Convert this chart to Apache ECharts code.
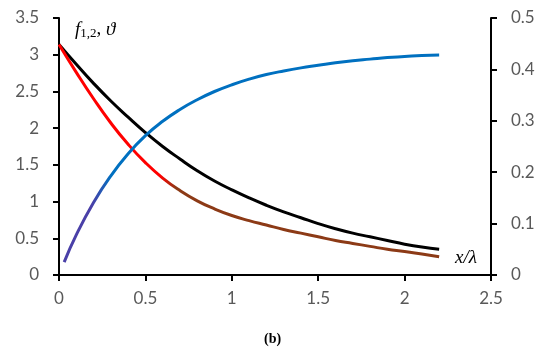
<!DOCTYPE html>
<html>
<head>
<meta charset="utf-8">
<script src="https://cdn.jsdelivr.net/npm/echarts@6/dist/echarts.min.js"></script>
<style>
html, body { margin: 0; padding: 0; background: #fff; }
#chart { width: 550px; height: 354px; }
</style>
</head>
<body>
<div id="chart"></div>
<script>
// values
var xs = [0, 0.1, 0.2, 0.3, 0.4, 0.5, 0.6, 0.7, 0.8, 0.9, 1.0, 1.1,
          1.2, 1.3, 1.4, 1.5, 1.6, 1.7, 1.8, 1.9, 2.0, 2.1, 2.2];
var f1 = [3.14, 2.87, 2.61, 2.37, 2.15, 1.94, 1.75, 1.58, 1.42, 1.28, 1.16, 1.05,
          0.95, 0.86, 0.78, 0.70, 0.63, 0.57, 0.52, 0.47, 0.42, 0.38, 0.35];
var f2 = [3.14, 2.76, 2.40, 2.07, 1.78, 1.53, 1.32, 1.15, 1.01, 0.90, 0.81, 0.74,
          0.68, 0.62, 0.57, 0.52, 0.47, 0.43, 0.39, 0.35, 0.32, 0.285, 0.25];
var thetaX = [0.03, 0.1, 0.2, 0.3, 0.4, 0.5, 0.6, 0.7, 0.8, 0.9, 1.0, 1.1,
              1.2, 1.3, 1.4, 1.5, 1.6, 1.7, 1.8, 1.9, 2.0, 2.1, 2.2];
var theta = [0.025, 0.078, 0.141, 0.193, 0.236, 0.271, 0.299, 0.322, 0.341, 0.357, 0.370, 0.381,
             0.390, 0.397, 0.403, 0.408, 0.413, 0.417, 0.420, 0.423, 0.425, 0.427, 0.428];

function pairs(x, y) {
    var out = [];
    for (var i = 0; i < x.length; i++) out.push([x[i], y[i]]);
    return out;
}

var labelStyle = {
    color: '#595959',
    fontSize: 17,
    fontFamily: 'Lato'
};

var option = {
    animation: false,
    backgroundColor: '#fff',
    grid: { left: 59, right: 59, top: 18, bottom: 79 },
    xAxis: {
        type: 'value',
        min: 0, max: 2.5, interval: 0.5,
        axisLine: { lineStyle: { color: '#000', width: 2 } },
        axisTick: { show: true, length: 6, lineStyle: { color: '#000', width: 2 } },
        axisLabel: Object.assign({ margin: 15 }, labelStyle),
        splitLine: { show: false }
    },
    yAxis: [
        {
            type: 'value',
            min: 0, max: 3.5, interval: 0.5,
            axisLine: { show: true, lineStyle: { color: '#000', width: 2 } },
            axisTick: { show: true, length: 6, lineStyle: { color: '#000', width: 2 } },
            axisLabel: Object.assign({ margin: 20 }, labelStyle),
            splitLine: { show: false }
        },
        {
            type: 'value',
            position: 'right',
            min: 0, max: 0.5, interval: 0.1,
            axisLine: { show: true, lineStyle: { color: '#000', width: 2 } },
            axisTick: { show: true, length: 6, lineStyle: { color: '#000', width: 2 } },
            axisLabel: Object.assign({ margin: 20 }, labelStyle),
            splitLine: { show: false }
        }
    ],
    series: [
        {
            name: 'f1',
            type: 'line',
            smooth: 0.5,
            symbol: 'none',
            data: pairs(xs, f1),
            lineStyle: { color: '#000', width: 3 }
        },
        {
            name: 'f2',
            type: 'line',
            smooth: 0.5,
            symbol: 'none',
            data: pairs(xs, f2),
            lineStyle: {
                width: 3,
                color: new echarts.graphic.LinearGradient(0, 0, 1, 0, [
                    { offset: 0, color: '#ff0000' },
                    { offset: 0.27, color: '#ff0000' },
                    { offset: 0.31, color: '#8c3a16' },
                    { offset: 1, color: '#8c3a16' }
                ])
            }
        },
        {
            name: 'theta',
            type: 'line',
            yAxisIndex: 1,
            smooth: 0.5,
            symbol: 'none',
            data: pairs(thetaX, theta),
            lineStyle: {
                width: 3,
                color: new echarts.graphic.LinearGradient(0, 0, 1, 0, [
                    { offset: 0, color: '#4a40a8' },
                    { offset: 0.08, color: '#4a40a8' },
                    { offset: 0.13, color: '#0070c0' },
                    { offset: 1, color: '#0070c0' }
                ])
            }
        }
    ],
    graphic: [
        {
            type: 'text',
            left: 75, top: 20,
            style: {
                text: '{i|f}{s|1,2}{n|, }{i|ϑ}',
                rich: {
                    i: { fontFamily: 'Liberation Serif', fontStyle: 'italic', fontSize: 19, fill: '#000' },
                    n: { fontFamily: 'Liberation Serif', fontSize: 19, fill: '#000' },
                    s: { fontFamily: 'Liberation Serif', fontSize: 13, fill: '#000', padding: [8, 0, 0, 0] }
                }
            }
        },
        {
            type: 'text',
            left: 455, top: 248,
            style: {
                text: 'x/λ',
                fontFamily: 'Liberation Serif',
                fontStyle: 'italic',
                fontSize: 19,
                fill: '#000'
            }
        },
        {
            type: 'text',
            left: 264, top: 332,
            style: {
                text: '(b)',
                fontFamily: 'Liberation Serif',
                fontWeight: 'bold',
                fontSize: 14,
                fill: '#000'
            }
        }
    ]
};

var myChart = echarts.init(document.getElementById('chart'));
myChart.setOption(option);
</script>
</body>
</html>
